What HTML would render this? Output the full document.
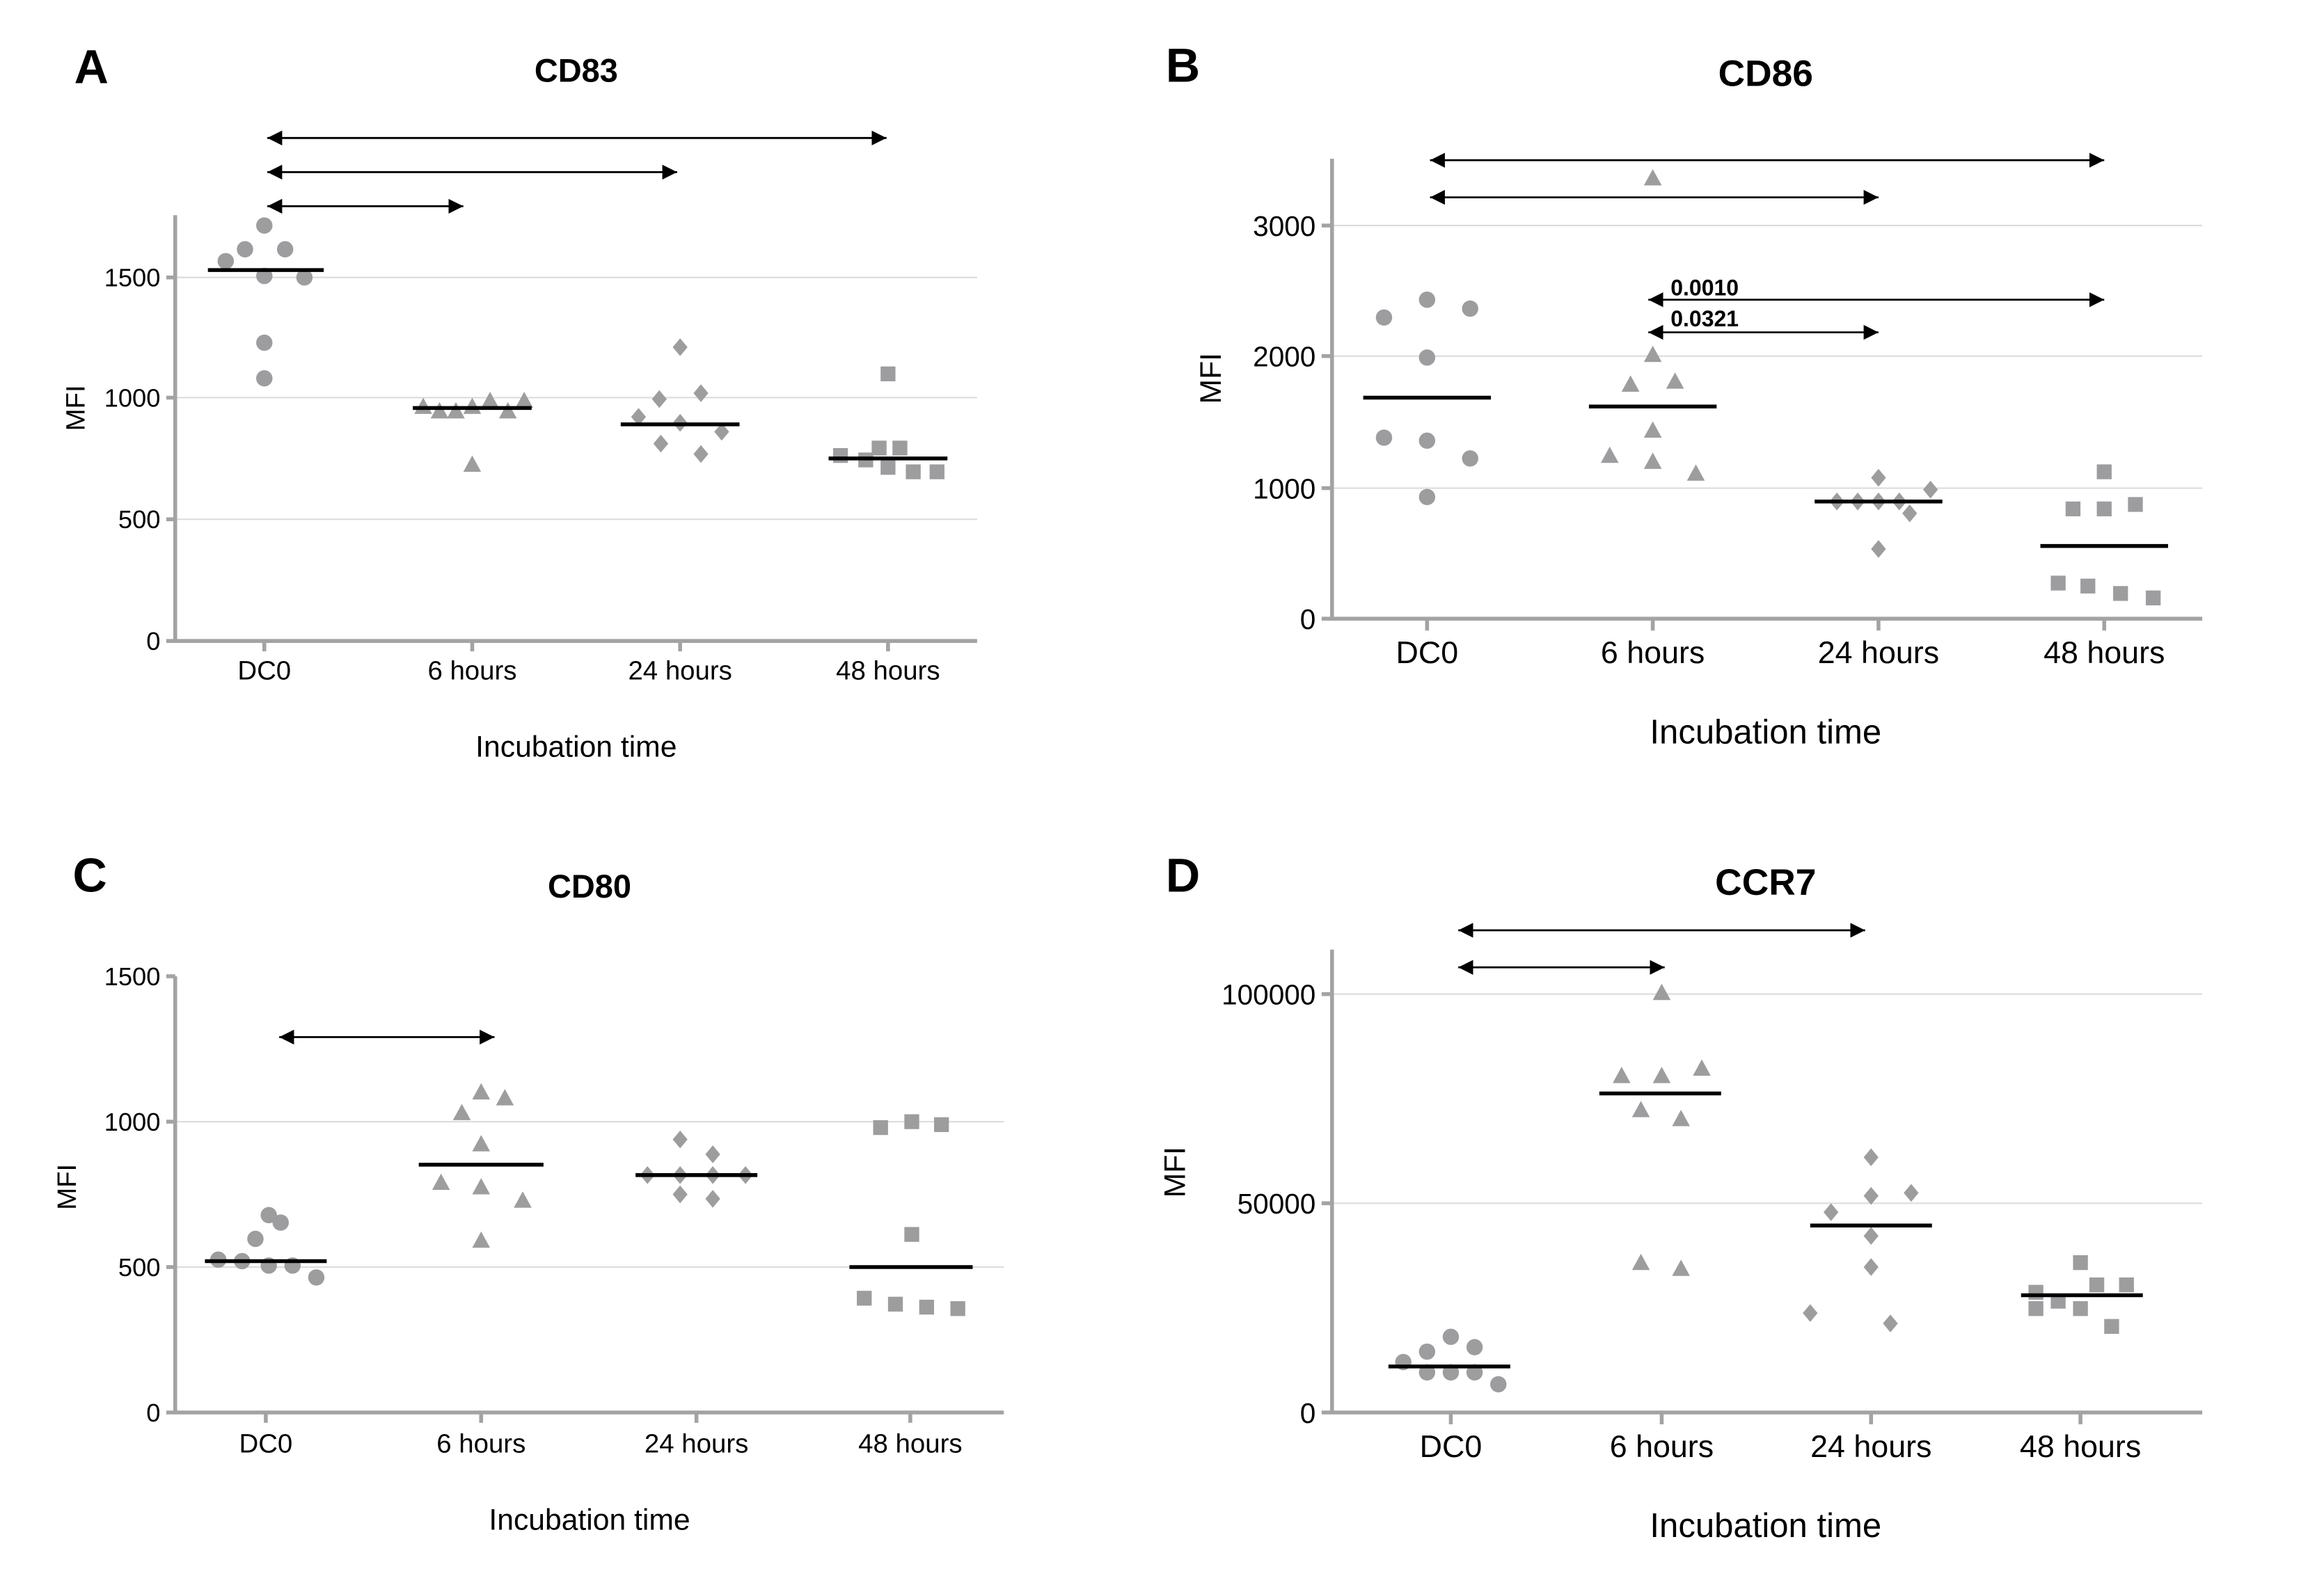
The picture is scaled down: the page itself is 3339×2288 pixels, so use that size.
<!DOCTYPE html>
<html><head><meta charset="utf-8"><style>
html,body{margin:0;padding:0;background:#fff}
svg{display:block}
text{font-family:"Liberation Sans",Arial,sans-serif;fill:#000}
.ax{stroke:#a3a3a3;stroke-width:2.6;fill:none}
.gr{stroke:#dcdcdc;stroke-width:1}
.md{stroke:#000;stroke-width:2.6}
.ar{stroke:#000;stroke-width:1.3;marker-start:url(#ah);marker-end:url(#ah)}
.mk{fill:#9d9d9f}
</style></head><body>
<svg width="3339" height="2288" viewBox="0 0 1565 1073" preserveAspectRatio="none">
<defs>
<marker id="ah" viewBox="0 0 10 10" refX="10" refY="5" markerWidth="10" markerHeight="10" markerUnits="userSpaceOnUse" orient="auto-start-reverse"><path d="M0,0L10,5L0,10z" fill="#000"/></marker>
<circle id="c" r="5.5" class="mk"/>
<path id="t" d="M0,-6L6,5L-6,5z" class="mk"/>
<path id="d" d="M0,-6L5,0L0,6L-5,0z" class="mk"/>
<rect id="s" x="-5" y="-5" width="10" height="10" class="mk"/>
</defs>

<!-- Panel A -->
<text x="50" y="56" font-size="32" font-weight="bold">A</text>
<text x="388" y="55" font-size="22" font-weight="bold" text-anchor="middle">CD83</text>
<g class="gr"><line x1="118" y1="187" x2="658" y2="187"/><line x1="118" y1="268" x2="658" y2="268"/><line x1="118" y1="350" x2="658" y2="350"/></g>
<path class="ax" d="M118,145V432H658M112,432H118M112,350H118M112,268H118M112,187H118M178,432v7M318,432v7M458,432v7M598,432v7"/>
<g font-size="17" text-anchor="end"><text x="108" y="438">0</text><text x="108" y="356">500</text><text x="108" y="274">1000</text><text x="108" y="193">1500</text></g>
<g font-size="18" text-anchor="middle"><text x="178" y="458">DC0</text><text x="318" y="458">6 hours</text><text x="458" y="458">24 hours</text><text x="598" y="458">48 hours</text></g>
<text x="388" y="510" font-size="20" text-anchor="middle">Incubation time</text>
<text transform="translate(57,275) rotate(-90)" font-size="18" text-anchor="middle">MFI</text>
<line class="ar" x1="180" y1="93" x2="597" y2="93"/><line class="ar" x1="180" y1="116" x2="456" y2="116"/><line class="ar" x1="180" y1="139" x2="312" y2="139"/>
<g><use href="#c" x="152" y="176"/><use href="#c" x="165" y="168"/><use href="#c" x="178" y="152"/><use href="#c" x="192" y="168"/><use href="#c" x="178" y="186"/><use href="#c" x="205" y="187"/><use href="#c" x="178" y="231"/><use href="#c" x="178" y="255"/>
<use href="#t" x="285" y="274"/><use href="#t" x="296" y="277"/><use href="#t" x="307" y="277"/><use href="#t" x="318" y="274"/><use href="#t" x="330" y="270"/><use href="#t" x="342" y="277"/><use href="#t" x="353" y="270"/><use href="#t" x="318" y="313"/>
<use href="#d" x="430" y="281"/><use href="#d" x="444" y="269"/><use href="#d" x="458" y="234"/><use href="#d" x="472" y="265"/><use href="#d" x="445" y="299"/><use href="#d" x="458" y="285"/><use href="#d" x="486" y="291"/><use href="#d" x="472" y="306"/>
<use href="#s" x="566" y="307"/><use href="#s" x="583" y="310"/><use href="#s" x="592" y="302"/><use href="#s" x="606" y="302"/><use href="#s" x="598" y="252"/><use href="#s" x="615" y="318"/><use href="#s" x="631" y="318"/><use href="#s" x="598" y="315"/></g>
<g class="md"><line x1="140" y1="182" x2="218" y2="182"/><line x1="278" y1="275" x2="358" y2="275"/><line x1="418" y1="286" x2="498" y2="286"/><line x1="558" y1="309" x2="638" y2="309"/></g>

<!-- Panel B -->
<text x="785" y="55" font-size="32" font-weight="bold">B</text>
<text x="1189" y="58" font-size="25" font-weight="bold" text-anchor="middle">CD86</text>
<g class="gr"><line x1="897" y1="152" x2="1483" y2="152"/><line x1="897" y1="240" x2="1483" y2="240"/><line x1="897" y1="329" x2="1483" y2="329"/></g>
<path class="ax" d="M897,107V417H1483M890,417H897M890,329H897M890,240H897M890,152H897M961,417v8M1113,417v8M1265,417v8M1417,417v8"/>
<g font-size="19" text-anchor="end"><text x="886" y="424">0</text><text x="886" y="336">1000</text><text x="886" y="247">2000</text><text x="886" y="159">3000</text></g>
<g font-size="21" text-anchor="middle"><text x="961" y="447">DC0</text><text x="1113" y="447">6 hours</text><text x="1265" y="447">24 hours</text><text x="1417" y="447">48 hours</text></g>
<text x="1189" y="501" font-size="23" text-anchor="middle">Incubation time</text>
<text transform="translate(822,255) rotate(-90)" font-size="20" text-anchor="middle">MFI</text>
<line class="ar" x1="963" y1="108" x2="1417" y2="108"/><line class="ar" x1="963" y1="133" x2="1265" y2="133"/>
<line class="ar" x1="1110" y1="202" x2="1417" y2="202"/><line class="ar" x1="1110" y1="224" x2="1265" y2="224"/>
<text x="1125" y="199" font-size="15" font-weight="bold">0.0010</text><text x="1125" y="220" font-size="15" font-weight="bold">0.0321</text>
<g><use href="#c" x="932" y="214"/><use href="#c" x="961" y="202"/><use href="#c" x="990" y="208"/><use href="#c" x="961" y="241"/><use href="#c" x="932" y="295"/><use href="#c" x="961" y="297"/><use href="#c" x="990" y="309"/><use href="#c" x="961" y="335"/>
<use href="#t" x="1113" y="120"/><use href="#t" x="1113" y="239"/><use href="#t" x="1098" y="259"/><use href="#t" x="1128" y="257"/><use href="#t" x="1113" y="290"/><use href="#t" x="1084" y="307"/><use href="#t" x="1113" y="311"/><use href="#t" x="1142" y="319"/>
<use href="#d" x="1237" y="338"/><use href="#d" x="1251" y="338"/><use href="#d" x="1265" y="338"/><use href="#d" x="1279" y="338"/><use href="#d" x="1265" y="322"/><use href="#d" x="1300" y="330"/><use href="#d" x="1286" y="346"/><use href="#d" x="1265" y="370"/>
<use href="#s" x="1417" y="318"/><use href="#s" x="1396" y="343"/><use href="#s" x="1417" y="343"/><use href="#s" x="1438" y="340"/><use href="#s" x="1386" y="393"/><use href="#s" x="1406" y="395"/><use href="#s" x="1428" y="400"/><use href="#s" x="1450" y="403"/></g>
<g class="md"><line x1="918" y1="268" x2="1004" y2="268"/><line x1="1070" y1="274" x2="1156" y2="274"/><line x1="1222" y1="338" x2="1308" y2="338"/><line x1="1374" y1="368" x2="1460" y2="368"/></g>

<!-- Panel C -->
<text x="49" y="601" font-size="32" font-weight="bold">C</text>
<text x="397" y="605" font-size="22" font-weight="bold" text-anchor="middle">CD80</text>
<g class="gr"><line x1="118" y1="756" x2="676" y2="756"/><line x1="118" y1="854" x2="676" y2="854"/></g>
<path class="ax" d="M118,658V952H676M112,952H118M112,854H118M112,756H118M112,658H118M179,952v7M324,952v7M469,952v7M613,952v7"/>
<g font-size="17" text-anchor="end"><text x="108" y="958">0</text><text x="108" y="860">500</text><text x="108" y="762">1000</text><text x="108" y="664">1500</text></g>
<g font-size="18" text-anchor="middle"><text x="179" y="979">DC0</text><text x="324" y="979">6 hours</text><text x="469" y="979">24 hours</text><text x="613" y="979">48 hours</text></g>
<text x="397" y="1031" font-size="20" text-anchor="middle">Incubation time</text>
<text transform="translate(51,800) rotate(-90)" font-size="18" text-anchor="middle">MFI</text>
<line class="ar" x1="188" y1="699" x2="333" y2="699"/>
<g><use href="#c" x="147" y="849"/><use href="#c" x="163" y="850"/><use href="#c" x="172" y="835"/><use href="#c" x="181" y="819"/><use href="#c" x="189" y="824"/><use href="#c" x="181" y="853"/><use href="#c" x="197" y="853"/><use href="#c" x="213" y="861"/>
<use href="#t" x="311" y="750"/><use href="#t" x="324" y="736"/><use href="#t" x="340" y="740"/><use href="#t" x="324" y="771"/><use href="#t" x="297" y="797"/><use href="#t" x="324" y="800"/><use href="#t" x="352" y="809"/><use href="#t" x="324" y="836"/>
<use href="#d" x="458" y="768"/><use href="#d" x="480" y="778"/><use href="#d" x="458" y="792"/><use href="#d" x="502" y="792"/><use href="#d" x="436" y="792"/><use href="#d" x="458" y="805"/><use href="#d" x="480" y="808"/><use href="#d" x="480" y="792"/>
<use href="#s" x="593" y="760"/><use href="#s" x="614" y="756"/><use href="#s" x="634" y="758"/><use href="#s" x="614" y="832"/><use href="#s" x="582" y="875"/><use href="#s" x="603" y="879"/><use href="#s" x="624" y="881"/><use href="#s" x="645" y="882"/></g>
<g class="md"><line x1="138" y1="850" x2="220" y2="850"/><line x1="282" y1="785" x2="366" y2="785"/><line x1="428" y1="792" x2="510" y2="792"/><line x1="572" y1="854" x2="655" y2="854"/></g>

<!-- Panel D -->
<text x="785" y="601" font-size="32" font-weight="bold">D</text>
<text x="1189" y="603" font-size="25" font-weight="bold" text-anchor="middle">CCR7</text>
<g class="gr"><line x1="897" y1="670" x2="1483" y2="670"/><line x1="897" y1="811" x2="1483" y2="811"/></g>
<path class="ax" d="M897,640V952H1483M890,952H897M890,811H897M890,670H897M977,952v8M1119,952v8M1260,952v8M1401,952v8"/>
<g font-size="19" text-anchor="end"><text x="886" y="959">0</text><text x="886" y="818">50000</text><text x="886" y="677">100000</text></g>
<g font-size="21" text-anchor="middle"><text x="977" y="982">DC0</text><text x="1119" y="982">6 hours</text><text x="1260" y="982">24 hours</text><text x="1401" y="982">48 hours</text></g>
<text x="1189" y="1036" font-size="23" text-anchor="middle">Incubation time</text>
<text transform="translate(798,790) rotate(-90)" font-size="20" text-anchor="middle">MFI</text>
<line class="ar" x1="982" y1="627" x2="1256" y2="627"/><line class="ar" x1="982" y1="652" x2="1121" y2="652"/>
<g><use href="#c" x="945" y="918"/><use href="#c" x="961" y="911"/><use href="#c" x="977" y="901"/><use href="#c" x="993" y="908"/><use href="#c" x="961" y="925"/><use href="#c" x="977" y="925"/><use href="#c" x="993" y="925"/><use href="#c" x="1009" y="933"/>
<use href="#t" x="1119" y="669"/><use href="#t" x="1092" y="725"/><use href="#t" x="1119" y="725"/><use href="#t" x="1146" y="720"/><use href="#t" x="1105" y="748"/><use href="#t" x="1132" y="754"/><use href="#t" x="1105" y="851"/><use href="#t" x="1132" y="855"/>
<use href="#d" x="1260" y="780"/><use href="#d" x="1233" y="817"/><use href="#d" x="1287" y="804"/><use href="#d" x="1260" y="806"/><use href="#d" x="1260" y="833"/><use href="#d" x="1260" y="854"/><use href="#d" x="1219" y="885"/><use href="#d" x="1273" y="892"/>
<use href="#s" x="1401" y="851"/><use href="#s" x="1371" y="871"/><use href="#s" x="1386" y="877"/><use href="#s" x="1412" y="866"/><use href="#s" x="1432" y="866"/><use href="#s" x="1371" y="882"/><use href="#s" x="1401" y="882"/><use href="#s" x="1422" y="894"/></g>
<g class="md"><line x1="935" y1="921" x2="1017" y2="921"/><line x1="1077" y1="737" x2="1159" y2="737"/><line x1="1219" y1="826" x2="1301" y2="826"/><line x1="1361" y1="873" x2="1443" y2="873"/></g>
</svg>
</body></html>
